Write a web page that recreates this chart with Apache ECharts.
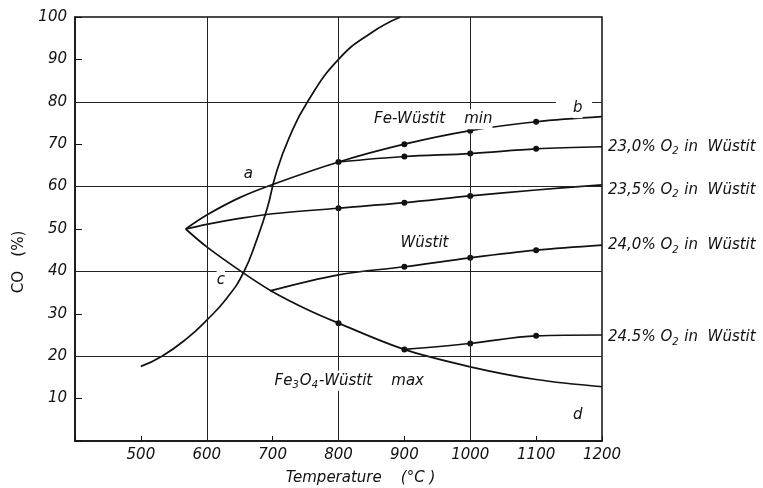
<!DOCTYPE html>
<html>
<head>
<meta charset="utf-8">
<title>CO – Temperature, Fe–Wüstit</title>
<script src="https://cdn.jsdelivr.net/npm/echarts@6/dist/echarts.min.js"></script>
<style>
  html, body { margin: 0; padding: 0; background: #fff; }
  #chart { width: 763px; height: 488px; }
</style>
</head>
<body>
<div id="chart"></div>
<script>
// gridlines
const xGridLines = [600, 800, 1000];
const yGridLines = [20, 40, 60];

// curves, [temperature °C, CO %]
const curveAC = [[500, 17.6], [532, 20], [570, 24.2], [600, 28.5], [631, 33.8], [656, 39.8], [676, 47.5], [692, 55],
  [705, 63], [725, 71.5], [753, 80], [800, 90], [850, 96.3], [894, 100]];
const feWustitMin = [[568, 50], [600, 53.3], [650, 57.4], [700, 60.5], [800, 65.8], [900, 70], [1000, 73.2], [1100, 75.3], [1200, 76.5]];
const fe3o4WustitMax = [[568, 50], [600, 45.8], [656, 39.6], [700, 35.2], [750, 31.2], [800, 27.8], [900, 21.6], [1000, 17.5], [1100, 14.5], [1200, 12.8]];
const o2_230 = [[800, 65.8], [900, 67.1], [1000, 67.8], [1100, 68.9], [1200, 69.4]];
const o2_235 = [[568, 50], [600, 51.1], [650, 52.5], [700, 53.6], [800, 54.9], [900, 56.2], [1000, 57.8], [1100, 59.2], [1200, 60.4]];
const o2_240 = [[696, 35.4], [800, 39.2], [900, 41.1], [1000, 43.2], [1100, 45], [1200, 46.2]];
const o2_245 = [[900, 21.6], [1000, 23], [1100, 24.8], [1200, 25]];

// measured points (dots) on each curve
const dotsMin = [800, 900, 1000, 1100];
const dotsMax = [800, 900];
const dots230 = [900, 1000, 1100];
const dots235 = [800, 900, 1000];
const dots240 = [900, 1000, 1100];
const dots245 = [1000, 1100];

// text in the plot: [temperature, CO, text]
const notes = [
  [656, 63, 'a'],
  [1156, 78.5, 'b'],
  [615, 38, 'c'],
  [1156, 6, 'd'],
  [854, 75.9, 'Fe-Wüstit    min'],
  [894, 46.7, 'Wüstit'],
  [703, 14.2, '{t|Fe}{s|3}{t|O}{s|4}{t|-Wüstit    max}']
];

const FONT = 'DejaVu Sans';
const INK = '#111';

const rich = {
  t: { fontFamily: FONT, fontStyle: 'italic', fontSize: 15, color: INK, lineHeight: 20, verticalAlign: 'middle' },
  s: { fontFamily: FONT, fontStyle: 'italic', fontSize: 10, color: INK, lineHeight: 20, verticalAlign: 'bottom', padding: [0, 1, 0, 0] }
};

const o2Label = (v) => '{t|' + v + '% O}{s|2}{t| in  Wüstit}';

function curve(name, pts, dots, extra) {
  return Object.assign({
    type: 'line',
    name: name,
    smooth: 0.35,
    z: 3,
    symbolSize: 6,
    itemStyle: { color: INK },
    lineStyle: { color: INK, width: 1.7 },
    data: pts.map(p => ({ value: p, symbol: dots.includes(p[0]) ? 'circle' : 'none' }))
  }, extra || {});
}

function endLabel(text, dy) {
  return {
    show: true,
    formatter: text,
    distance: 6,
    offset: [0, dy],
    rich: rich
  };
}

const chart = echarts.init(document.getElementById('chart'));

const option = {
  animation: false,
  backgroundColor: '#fff',
  grid: {
    left: 75, right: 161, top: 17, bottom: 47,
    show: true, borderColor: INK, borderWidth: 1.5,
    outerBoundsMode: 'none'
  },
  xAxis: {
    type: 'value',
    min: 400, max: 1200, interval: 100,
    name: 'Temperature    (°C )',
    nameLocation: 'middle',
    nameGap: 30,
    nameTextStyle: { fontFamily: FONT, fontStyle: 'italic', fontSize: 15, color: INK, padding: [0, 0, 0, 44] },
    axisLine: { show: true, lineStyle: { color: INK, width: 1.5 } },
    axisTick: { show: true, inside: true, length: 5, lineStyle: { color: INK } },
    axisLabel: {
      fontFamily: FONT, fontStyle: 'italic', fontSize: 15, color: INK, margin: 7,
      formatter: v => (v === 400 ? '' : String(v))
    },
    splitLine: { show: false }
  },
  yAxis: {
    type: 'value',
    min: 0, max: 100, interval: 10,
    name: 'CO   (%)',
    nameLocation: 'middle',
    nameGap: 48,
    nameTextStyle: { fontFamily: FONT, fontSize: 15, color: INK, padding: [0, 66, 0, 0] },
    axisLine: { show: true, lineStyle: { color: INK, width: 1.5 } },
    axisTick: { show: true, inside: true, length: 7, lineStyle: { color: INK } },
    axisLabel: {
      fontFamily: FONT, fontStyle: 'italic', fontSize: 15, color: INK, margin: 8,
      formatter: v => (v === 0 ? '' : String(v))
    },
    splitLine: { show: false }
  },
  series: [
    curve('a–c', curveAC, [], {
      z: 2,
      smooth: 0.5,
      markLine: {
        silent: true,
        symbol: ['none', 'none'],
        label: { show: false },
        lineStyle: { color: '#222', width: 1, type: 'solid' },
        data: yGridLines.map(v => ({ yAxis: v }))
          .concat(xGridLines.map(v => ({ xAxis: v })))
          .concat([
            [{ coord: [400, 80] }, { coord: [1130, 80] }],
            [{ coord: [1185, 80] }, { coord: [1200, 80] }]
          ])
      }
    }),
    curve('Fe-Wüstit min', feWustitMin, dotsMin),
    curve('Fe3O4-Wüstit max', fe3o4WustitMax, dotsMax),
    curve('23,0 %', o2_230, dots230, { endLabel: endLabel(o2Label('23,0'), 0) }),
    curve('23,5 %', o2_235, dots235, { endLabel: endLabel(o2Label('23,5'), 5) }),
    curve('24,0 %', o2_240, dots240, { endLabel: endLabel(o2Label('24,0'), 0) }),
    curve('24,5 %', o2_245, dots245, { endLabel: endLabel(o2Label('24.5'), 2) }),
    {
      type: 'scatter',
      name: 'notes',
      z: 5,
      symbolSize: 0,
      silent: true,
      itemStyle: { opacity: 1 },
      label: {
        show: true,
        position: 'right',
        distance: 0,
        formatter: p => (p.name.indexOf('{') === 0 ? p.name : '{t|' + p.name + '}'),
        rich: rich,
        backgroundColor: '#fff'
      },
      data: notes.map(n => ({ value: [n[0], n[1]], name: n[2] }))
    }
  ]
};

chart.setOption(option);
window.addEventListener('resize', () => chart.resize());
</script>
</body>
</html>
